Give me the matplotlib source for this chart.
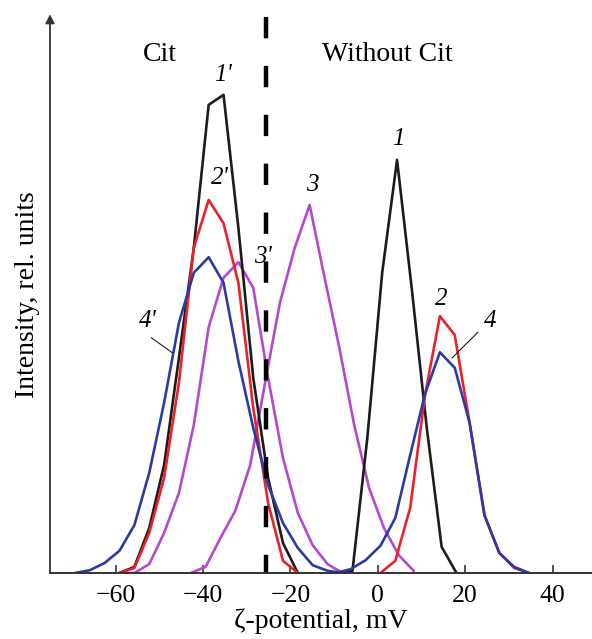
import matplotlib
matplotlib.use('Agg')
import matplotlib.pyplot as plt

plt.rcParams['font.family'] = ['Liberation Serif', 'DejaVu Serif']
plt.rcParams['axes.unicode_minus'] = True

# zeta-potential distributions, with citrate (primed) and without
x_1p = [-59.1, -55.7, -52.3, -48.9, -45.5, -42.1, -38.7, -35.3, -31.9, -28.5, -25.1, -21.7, -18.3]
y_1p = [0, 1.1, 8.1, 19.4, 38.7, 58.5, 84.2, 86.0, 62.1, 35.1, 17.1, 5.4, 0]

x_2p = [-59.1, -55.7, -52.3, -48.9, -45.5, -42.1, -38.7, -35.3, -31.9, -28.5, -25.1, -21.7, -18.3]
y_2p = [0, 0.9, 7.2, 17.1, 34.2, 58.5, 67.1, 62.9, 52.2, 29.7, 12.6, 2.2, 0]

x_3p = [-59.1, -55.7, -52.3, -48.9, -45.5, -42.1, -38.7, -35.3, -31.9, -28.5, -25.1, -21.7, -18.3, -14.9, -11.5, -8.1]
y_3p = [0, 0, 1.6, 7.2, 14.4, 26.6, 44.2, 53.1, 55.9, 51.3, 35.1, 20.7, 10.8, 5.0, 1.6, 0]

x_4p = [-69.3, -65.9, -62.5, -59.1, -55.7, -52.3, -48.9, -45.5, -42.1, -38.7, -35.3, -31.9, -28.5,
        -25.1, -21.7, -18.3, -14.9, -11.5, -8.1]
y_4p = [0, 0.5, 1.8, 4.0, 8.6, 18.0, 30.6, 45.0, 54.0, 56.8, 52.2, 38.1, 26.1, 15.8, 9.0, 4.5, 1.4, 0.4, 0]

x_1 = [-9.2, -5.8, -2.4, 1.0, 4.4, 7.8, 11.2, 14.6, 18.0]
y_1 = [0, 0.4, 24.3, 54.0, 74.3, 50.9, 26.1, 4.7, 0]

x_2 = [0.6, 4.0, 7.4, 10.8, 14.2, 17.6, 21.0, 24.4, 27.8, 31.2, 34.6]
y_2 = [0, 2.2, 11.7, 32.0, 46.2, 42.8, 27.0, 10.4, 3.6, 0.9, 0]

x_3 = [-42.8, -39.4, -36.0, -32.6, -29.2, -25.8, -22.4, -19.0, -15.6, -12.2, -8.8, -5.4, -2.0, 1.4, 4.8, 8.2]
y_3 = [0, 1.1, 6.3, 11.2, 19.4, 34.2, 48.6, 58.5, 66.2, 53.2, 40.5, 26.6, 15.3, 8.1, 3.2, 0.4]

x_4 = [-9.6, -6.2, -2.8, 0.6, 4.0, 7.4, 10.8, 14.2, 17.6, 21.0, 24.4, 27.8, 31.2, 34.6]
y_4 = [0, 0.7, 2.3, 4.9, 9.9, 21.2, 32.2, 39.7, 36.9, 27.0, 10.4, 3.6, 1.1, 0]

xticks = [-60, -40, -20, 0, 20, 40]
border = -25.5  # separates the citrate and citrate-free regions

black = '#1c1c1c'
red = '#ec2128'
blue = '#2b3aa8'
violet = '#b548d0'

fig = plt.figure(figsize=(5.92, 6.39), dpi=100)
ax = fig.add_axes([50 / 592, 66 / 639, 542 / 592, 556 / 639])

style = dict(lw=1.9, solid_joinstyle='round')
ax.plot(x_3, y_3, color=violet, **style)
ax.plot(x_3p, y_3p, color=violet, **style)
ax.plot(x_1, y_1, color=black, **style)
ax.plot(x_1p, y_1p, color=black, **style)
ax.plot(x_2, y_2, color=red, **style)
ax.plot(x_2p, y_2p, color=red, **style)
ax.plot(x_4, y_4, color=blue, **style)
ax.plot(x_4p, y_4p, color=blue, **style)

# dashes start from the top
ax.plot([border, border], [100, 0], color='black', lw=3.2, dashes=(4.8, 6.2))

ax.set_xlim(-75, 49)
ax.set_ylim(0, 100)

for side in ['top', 'right', 'left']:
    ax.spines[side].set_visible(False)
ax.spines['bottom'].set_color('#333333')
ax.spines['bottom'].set_linewidth(1.4)

# y axis drawn as an arrow
ax.annotate('', xy=(-75, 100.5), xytext=(-75, 0), xycoords='data',
            arrowprops=dict(arrowstyle='-|>', color='#333333', lw=1.3,
                            mutation_scale=13, shrinkA=0, shrinkB=0),
            annotation_clip=False)

ax.set_xticks(xticks)
ax.set_yticks([])
ax.tick_params(axis='x', direction='in', length=6, width=1.2, color='#333333',
               labelsize=18.5, pad=9)
ax.set_xlabel('ζ-potential, mV', fontsize=20, labelpad=1)
ax.set_ylabel('Intensity, rel. units', fontsize=20, labelpad=7)

ax.text(-49.9, 93.2, 'Cit', fontsize=20, ha='center', va='center')
ax.text(2.1, 93.2, 'Without Cit', fontsize=20, ha='center', va='center')

lab = dict(fontsize=18, style='italic', ha='center', va='center')
ax.text(-35.3, 89.5, "1'", **lab)
ax.text(-36.2, 71.0, "2'", **lab)
ax.text(-26.2, 56.8, "3'", **lab)
ax.text(-52.7, 45.3, "4'", **lab)
ax.text(4.6, 78.0, '1', **lab)
ax.text(-15.0, 69.8, '3', **lab)
ax.text(14.6, 49.2, '2', **lab)
ax.text(25.8, 45.3, '4', **lab)

ax.plot([-51.8, -47.0], [42.3, 39.6], color=black, lw=0.8)
ax.plot([22.9, 17.0], [43.3, 38.7], color=black, lw=0.8)

fig.savefig('out.png', dpi=100)
